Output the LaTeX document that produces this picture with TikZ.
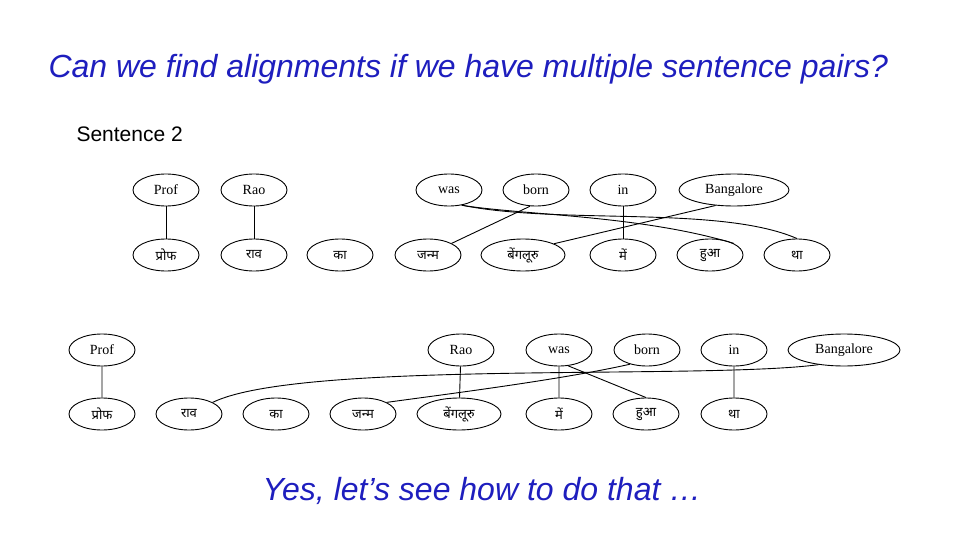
\documentclass[tikz,border=0pt]{standalone}
\usepackage{fontspec}
\setmainfont{Liberation Serif}
\newfontfamily\sansf{Liberation Sans}
\newfontfamily\deva[Script=Devanagari]{Noto Sans}
\usetikzlibrary{shapes.geometric}
\definecolor{ttl}{RGB}{30,30,190}
\begin{document}
\begin{tikzpicture}[x=1pt,y=-1pt,
 w/.style={draw,line width=0.9pt,ellipse,minimum width=66pt,minimum height=32pt,inner sep=0pt,font=\fontsize{14}{16}\selectfont},
 h/.style={w,font=\deva\fontsize{13}{15}\selectfont},
 lk/.style={line width=0.9pt}]
\useasboundingbox (0,0) rectangle (960,540);
\node[font=\sansf\itshape\fontsize{32}{36}\selectfont,text=ttl,anchor=west] (t) at (45,69) {Can we find alignments if we have multiple sentence pairs?};
\node[font=\sansf\fontsize{21}{24}\selectfont,anchor=west] (s2) at (73,134) {Sentence 2};
\node[font=\sansf\itshape\fontsize{32}{36}\selectfont,text=ttl] (y) at (482,491) {Yes, let’s see how to do that …};
% graph 1
\node[w] (aP) at (166,190) {Prof};
\node[w] (aR) at (254,190) {Rao};
\node[w] (aW) at (449,190) {was};
\node[w] (aB) at (536,190) {born};
\node[w] (aI) at (623,190) {in};
\node[w,minimum width=110pt] (aG) at (734,190) {Bangalore};
\node[h] (ap) at (166,255) {प्रोफ};
\node[h] (ar) at (254,255) {राव};
\node[h] (ak) at (340,255) {का};
\node[h] (aj) at (428,255) {जन्म};
\node[h,minimum width=84pt] (ab) at (523,255) {बेंगलूरु};
\node[h] (am) at (623,255) {में};
\node[h] (ah) at (710,255) {हुआ};
\node[h] (at) at (797,255) {था};
\draw[lk] (aP)--(ap) (aR)--(ar) (aI)--(am);
\draw[lk] (aB.250)--(aj.north east);
\draw[lk] (aG.220)--(ab.20);
\draw[lk] (aW.310) .. controls (520,215) and (640,215) .. (ah.north east);
\draw[lk] (aW.310) .. controls (560,225) and (720,205) .. (at.north);
% graph 2
\node[w] (bP) at (102,350) {Prof};
\node[w] (bR) at (461,350) {Rao};
\node[w] (bW) at (559,350) {was};
\node[w] (bB) at (647,350) {born};
\node[w] (bI) at (734,350) {in};
\node[w,minimum width=112pt] (bG) at (844,350) {Bangalore};
\node[h] (bp) at (102,414) {प्रोफ};
\node[h] (br) at (189,414) {राव};
\node[h] (bk) at (276,414) {का};
\node[h] (bj) at (363,414) {जन्म};
\node[h,minimum width=84pt] (bb) at (459,414) {बेंगलूरु};
\node[h] (bm) at (559,414) {में};
\node[h] (bh) at (646,414) {हुआ};
\node[h] (bt) at (734,414) {था};
\draw[lk] (bP)--(bp) (bR)--(bb) (bW)--(bm) (bI)--(bt);
\draw[lk] (bW.300)--(bh.north);
\draw[lk] (bB.220) .. controls (560,380) and (440,395) .. (bj.north east);
\draw[lk] (bG.210) .. controls (700,380) and (300,360) .. (br.north east);
\end{tikzpicture}
\end{document}
